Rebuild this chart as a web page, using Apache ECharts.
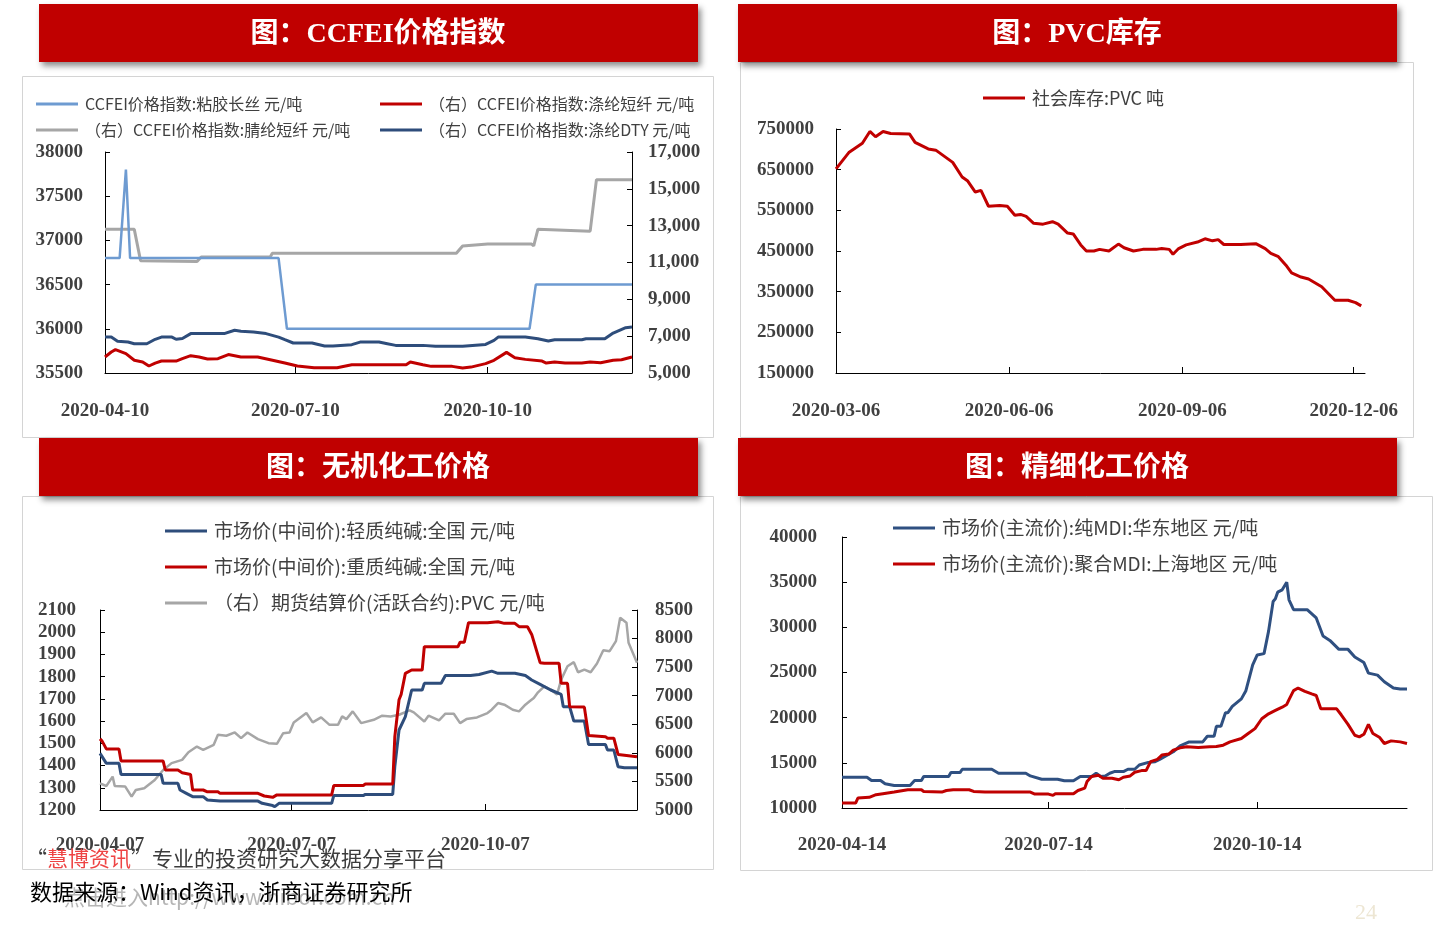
<!DOCTYPE html>
<html><head><meta charset="utf-8">
<script src="https://cdn.jsdelivr.net/npm/echarts@6/dist/echarts.min.js"></script>
<style>html,body{margin:0;padding:0;background:#fff}#c{width:1440px;height:926px}</style>
</head><body><div id="c"></div>
<script>
// ---------- Panel 1: CCFEI price index ----------
const p1Names = ['CCFEI价格指数:粘胶长丝 元/吨','（右）CCFEI价格指数:涤纶短纤 元/吨','（右）CCFEI价格指数:腈纶短纤 元/吨','（右）CCFEI价格指数:涤纶DTY 元/吨'];
const p1XLabels = ['2020-04-10','2020-07-10','2020-10-10'];
const p1XTicks = ['2020-07-10','2020-10-10'];
const p1RightTicks = [5000,7000,9000,11000,13000,15000,17000];
const ccfeiViscose = [['2020-04-10',36800],['2020-04-17',36800],['2020-04-20',37800],['2020-04-22',36800],['2020-07-02',36800],['2020-07-06',36000],['2020-10-30',36000],['2020-11-02',36500],['2020-12-18',36500]];
const ccfeiPolyester = [['2020-04-10',5870],['2020-04-13',6140],['2020-04-15',6270],['2020-04-20',6050],['2020-04-24',5690],['2020-04-28',5600],['2020-05-01',5380],['2020-05-04',5540],['2020-05-07',5650],['2020-05-14',5650],['2020-05-17',5780],['2020-05-21',5940],['2020-05-25',5870],['2020-05-29',5760],['2020-06-03',5780],['2020-06-08',6000],['2020-06-14',5870],['2020-06-22',5870],['2020-06-28',5720],['2020-07-05',5540],['2020-07-11',5380],['2020-07-19',5290],['2020-07-30',5290],['2020-08-06',5450],['2020-09-01',5450],['2020-09-03',5600],['2020-09-09',5450],['2020-09-13',5360],['2020-09-23',5360],['2020-09-28',5270],['2020-10-02',5320],['2020-10-09',5510],['2020-10-13',5690],['2020-10-19',6120],['2020-10-23',5830],['2020-10-28',5740],['2020-11-05',5650],['2020-11-07',5540],['2020-11-11',5600],['2020-11-16',5540],['2020-11-24',5540],['2020-11-28',5600],['2020-12-03',5560],['2020-12-09',5690],['2020-12-13',5720],['2020-12-18',5870]];
const ccfeiAcrylic = [['2020-04-10',12800],['2020-04-24',12800],['2020-04-27',11100],['2020-05-24',11050],['2020-05-26',11300],['2020-06-28',11300],['2020-06-29',11500],['2020-09-25',11500],['2020-09-28',11900],['2020-10-10',12000],['2020-10-31',12000],['2020-11-01',11900],['2020-11-03',12800],['2020-11-28',12700],['2020-12-01',15500],['2020-12-18',15500]];
const ccfeiDTY = [['2020-04-10',6950],['2020-04-13',6950],['2020-04-16',6720],['2020-04-21',6680],['2020-04-24',6590],['2020-04-30',6590],['2020-05-04',6830],['2020-05-07',6950],['2020-05-12',6950],['2020-05-14',6830],['2020-05-17',6870],['2020-05-21',7140],['2020-06-06',7140],['2020-06-11',7320],['2020-06-14',7270],['2020-06-20',7230],['2020-06-26',7140],['2020-07-02',6950],['2020-07-05',6810],['2020-07-09',6630],['2020-07-18',6630],['2020-07-24',6470],['2020-07-28',6470],['2020-08-06',6540],['2020-08-10',6680],['2020-08-19',6680],['2020-08-23',6590],['2020-08-27',6500],['2020-09-09',6500],['2020-09-15',6450],['2020-09-28',6450],['2020-10-09',6550],['2020-10-13',6770],['2020-10-15',6950],['2020-10-28',6950],['2020-11-03',6860],['2020-11-08',6740],['2020-11-11',6810],['2020-11-24',6810],['2020-11-26',6860],['2020-12-05',6860],['2020-12-09',7170],['2020-12-15',7460],['2020-12-18',7500]];

// ---------- Panel 2: PVC inventory ----------
const p2Name = '社会库存:PVC 吨';
const p2XLabels = ['2020-03-06','2020-06-06','2020-09-06','2020-12-06'];
const p2XTicks = ['2020-06-06','2020-09-06','2020-12-06'];
const p2YTicks = [150000,250000,350000,450000,550000,650000,750000];
const pvcInventory = [['2020-03-06',652000],['2020-03-13',693000],['2020-03-20',715000],['2020-03-24',744000],['2020-03-27',731000],['2020-03-31',744000],['2020-04-04',739000],['2020-04-14',738000],['2020-04-17',717000],['2020-04-24',701000],['2020-04-28',698000],['2020-05-07',668000],['2020-05-12',632000],['2020-05-15',622000],['2020-05-19',595000],['2020-05-22',599000],['2020-05-26',560000],['2020-06-01',562000],['2020-06-05',560000],['2020-06-09',538000],['2020-06-12',540000],['2020-06-15',535000],['2020-06-19',518000],['2020-06-24',516000],['2020-06-29',522000],['2020-07-02',516000],['2020-07-07',494000],['2020-07-10',492000],['2020-07-14',465000],['2020-07-17',450000],['2020-07-21',450000],['2020-07-24',454000],['2020-07-29',450000],['2020-08-03',467000],['2020-08-06',458000],['2020-08-11',450000],['2020-08-16',454000],['2020-08-23',454000],['2020-08-26',456000],['2020-08-30',454000],['2020-09-01',442000],['2020-09-04',456000],['2020-09-08',465000],['2020-09-14',472000],['2020-09-18',480000],['2020-09-22',475000],['2020-09-25',478000],['2020-09-28',466000],['2020-10-07',466000],['2020-10-15',468000],['2020-10-20',456000],['2020-10-23',444000],['2020-10-27',436000],['2020-10-31',415000],['2020-11-03',396000],['2020-11-08',386000],['2020-11-12',381000],['2020-11-19',362000],['2020-11-26',329000],['2020-12-03',329000],['2020-12-07',323000],['2020-12-10',315000]];

// ---------- Panel 3: inorganic chemicals ----------
const p3Names = ['市场价(中间价):轻质纯碱:全国 元/吨','市场价(中间价):重质纯碱:全国 元/吨','（右）期货结算价(活跃合约):PVC 元/吨'];
const p3XLabels = ['2020-04-07','2020-07-07','2020-10-07'];
const p3XTicks = ['2020-07-07','2020-10-07'];
const sodaLight = [['2020-04-07',1455],['2020-04-08',1440],['2020-04-10',1410],['2020-04-16',1410],['2020-04-17',1360],['2020-05-06',1360],['2020-05-07',1320],['2020-05-14',1320],['2020-05-15',1290],['2020-05-18',1275],['2020-05-21',1260],['2020-05-26',1260],['2020-05-28',1245],['2020-06-03',1240],['2020-06-21',1240],['2020-06-23',1230],['2020-06-28',1220],['2020-06-29',1215],['2020-07-01',1230],['2020-07-26',1230],['2020-07-27',1265],['2020-08-10',1265],['2020-08-11',1270],['2020-08-24',1270],['2020-08-25',1395],['2020-08-27',1560],['2020-08-30',1620],['2020-09-02',1740],['2020-09-07',1740],['2020-09-08',1770],['2020-09-16',1770],['2020-09-18',1805],['2020-09-30',1805],['2020-10-04',1810],['2020-10-10',1825],['2020-10-13',1815],['2020-10-21',1815],['2020-10-26',1805],['2020-10-29',1785],['2020-11-02',1765],['2020-11-07',1740],['2020-11-12',1720],['2020-11-13',1665],['2020-11-16',1665],['2020-11-18',1600],['2020-11-23',1600],['2020-11-25',1495],['2020-12-03',1495],['2020-12-04',1470],['2020-12-07',1470],['2020-12-09',1395],['2020-12-12',1390],['2020-12-18',1390]];
const sodaHeavy = [['2020-04-07',1520],['2020-04-08',1510],['2020-04-10',1475],['2020-04-16',1475],['2020-04-17',1420],['2020-05-07',1420],['2020-05-08',1380],['2020-05-14',1380],['2020-05-16',1368],['2020-05-20',1360],['2020-05-21',1290],['2020-05-26',1290],['2020-05-28',1282],['2020-06-02',1282],['2020-06-03',1275],['2020-06-21',1275],['2020-06-24',1263],['2020-06-28',1257],['2020-06-30',1268],['2020-07-26',1268],['2020-07-27',1310],['2020-08-10',1310],['2020-08-11',1317],['2020-08-24',1317],['2020-08-25',1530],['2020-08-27',1696],['2020-08-28',1720],['2020-08-30',1815],['2020-09-02',1830],['2020-09-07',1830],['2020-09-08',1935],['2020-09-24',1935],['2020-09-25',1955],['2020-09-27',1955],['2020-09-29',2043],['2020-10-08',2043],['2020-10-13',2047],['2020-10-16',2040],['2020-10-21',2040],['2020-10-23',2025],['2020-10-27',2025],['2020-10-29',1990],['2020-11-02',1863],['2020-11-04',1860],['2020-11-11',1860],['2020-11-12',1770],['2020-11-15',1770],['2020-11-16',1665],['2020-11-23',1663],['2020-11-25',1535],['2020-12-03',1530],['2020-12-04',1523],['2020-12-07',1523],['2020-12-09',1450],['2020-12-18',1440]];
const pvcFutures = [['2020-04-07',5467],['2020-04-10',5420],['2020-04-13',5584],['2020-04-14',5420],['2020-04-19',5410],['2020-04-22',5233],['2020-04-24',5350],['2020-04-28',5380],['2020-05-03',5526],['2020-05-07',5700],['2020-05-11',5820],['2020-05-16',5877],['2020-05-19',6012],['2020-05-23',6110],['2020-05-26',6053],['2020-05-31',6140],['2020-06-02',6316],['2020-06-06',6300],['2020-06-10',6357],['2020-06-13',6258],['2020-06-16',6357],['2020-06-21',6240],['2020-06-26',6170],['2020-06-30',6158],['2020-07-03',6345],['2020-07-06',6357],['2020-07-08',6533],['2020-07-14',6697],['2020-07-17',6533],['2020-07-21',6621],['2020-07-25',6490],['2020-07-29',6490],['2020-07-31',6638],['2020-08-02',6590],['2020-08-05',6726],['2020-08-09',6521],['2020-08-15',6579],['2020-08-19',6650],['2020-08-23',6638],['2020-08-27',6667],['2020-09-01',6744],['2020-09-03',6708],['2020-09-08',6550],['2020-09-10',6650],['2020-09-15',6568],['2020-09-18',6685],['2020-09-22',6685],['2020-09-25',6521],['2020-09-28',6591],['2020-10-03',6620],['2020-10-08',6697],['2020-10-10',6755],['2020-10-13',6872],['2020-10-16',6843],['2020-10-20',6755],['2020-10-23',6726],['2020-10-26',6843],['2020-10-28',6902],['2020-10-30',6960],['2020-11-01',7060],['2020-11-04',7165],['2020-11-07',7107],['2020-11-10',7020],['2020-11-12',7282],['2020-11-15',7516],['2020-11-18',7587],['2020-11-20',7411],['2020-11-23',7458],['2020-11-26',7411],['2020-11-29',7563],['2020-12-02',7797],['2020-12-05',7780],['2020-12-08',7955],['2020-12-10',8365],['2020-12-13',8277],['2020-12-14',7926],['2020-12-18',7575]];

// ---------- Panel 4: fine chemicals (MDI) ----------
const p4Names = ['市场价(主流价):纯MDI:华东地区 元/吨','市场价(主流价):聚合MDI:上海地区 元/吨'];
const p4XLabels = ['2020-04-14','2020-07-14','2020-10-14'];
const p4XTicks = ['2020-07-14','2020-10-14'];
const mdiPure = [['2020-04-14',13400],['2020-04-25',13400],['2020-04-27',13040],['2020-05-01',13040],['2020-05-03',12680],['2020-05-07',12490],['2020-05-14',12490],['2020-05-16',13040],['2020-05-19',13040],['2020-05-20',13480],['2020-05-31',13480],['2020-06-01',13920],['2020-06-05',13920],['2020-06-06',14290],['2020-06-19',14290],['2020-06-22',13850],['2020-07-04',13850],['2020-07-06',13550],['2020-07-11',13190],['2020-07-18',13190],['2020-07-21',13010],['2020-07-25',13010],['2020-07-28',13480],['2020-08-02',13480],['2020-08-04',13850],['2020-08-06',13480],['2020-08-08',13550],['2020-08-10',13850],['2020-08-12',14030],['2020-08-16',14030],['2020-08-18',14290],['2020-08-21',14290],['2020-08-23',14760],['2020-08-27',15050],['2020-08-30',15130],['2020-09-01',15380],['2020-09-07',16220],['2020-09-10',16880],['2020-09-14',17320],['2020-09-20',17320],['2020-09-22',17940],['2020-09-25',17940],['2020-09-26',19040],['2020-09-28',19040],['2020-09-30',20540],['2020-10-01',20540],['2020-10-03',21240],['2020-10-07',22080],['2020-10-09',22990],['2020-10-12',25840],['2020-10-14',26940],['2020-10-17',27090],['2020-10-19',29580],['2020-10-21',32870],['2020-10-22',33160],['2020-10-23',33890],['2020-10-25',34150],['2020-10-27',34990],['2020-10-28',33050],['2020-10-30',31950],['2020-11-05',31950],['2020-11-09',31040],['2020-11-12',29030],['2020-11-15',28550],['2020-11-19',27560],['2020-11-23',27560],['2020-11-26',26720],['2020-11-30',26100],['2020-12-02',24930],['2020-12-06',24710],['2020-12-09',23980],['2020-12-13',23280],['2020-12-16',23170],['2020-12-19',23170]];
const mdiPolymeric = [['2020-04-14',10550],['2020-04-20',10550],['2020-04-21',11100],['2020-04-26',11180],['2020-04-29',11470],['2020-05-02',11580],['2020-05-07',11760],['2020-05-11',11940],['2020-05-13',12020],['2020-05-19',12020],['2020-05-20',11830],['2020-05-28',11760],['2020-05-30',11940],['2020-06-02',12020],['2020-06-09',12020],['2020-06-11',11830],['2020-06-16',11760],['2020-07-06',11760],['2020-07-08',11540],['2020-07-14',11540],['2020-07-16',11400],['2020-07-17',11580],['2020-07-25',11580],['2020-07-27',11940],['2020-07-30',12200],['2020-07-31',12930],['2020-08-02',13480],['2020-08-05',13630],['2020-08-07',13300],['2020-08-11',13300],['2020-08-14',13120],['2020-08-16',13410],['2020-08-19',13550],['2020-08-21',13960],['2020-08-24',14140],['2020-08-26',14140],['2020-08-28',15130],['2020-08-31',15380],['2020-09-02',15860],['2020-09-05',15970],['2020-09-07',16410],['2020-09-10',16660],['2020-09-13',16770],['2020-09-18',16700],['2020-09-23',16770],['2020-09-26',16800],['2020-09-29',16950],['2020-10-02',17320],['2020-10-07',17690],['2020-10-10',18240],['2020-10-13',18790],['2020-10-16',19880],['2020-10-19',20430],['2020-10-22',20800],['2020-10-25',21160],['2020-10-27',21460],['2020-10-28',22000],['2020-10-30',22990],['2020-11-01',23280],['2020-11-04',22920],['2020-11-07',22630],['2020-11-09',22450],['2020-11-11',20980],['2020-11-18',20980],['2020-11-20',20320],['2020-11-23',19260],['2020-11-26',18050],['2020-11-28',17870],['2020-11-30',18160],['2020-12-02',19260],['2020-12-04',18240],['2020-12-07',17800],['2020-12-09',17140],['2020-12-12',17430],['2020-12-16',17320],['2020-12-19',17140]];

// ---------- Titles & footer ----------
const panelTitles = ['图：CCFEI价格指数','图：PVC库存','图：无机化工价格','图：精细化工价格'];
const sourceText = '数据来源：Wind资讯，浙商证券研究所';
const pageNo = '24';

// ---------- helpers ----------
const ts = s => { const [y,m,d] = s.split('-').map(Number); return Date.UTC(y, m-1, d); };
const pad = n => String(n).padStart(2,'0');
const fmtDate = v => { const d = new Date(v); return d.getUTCFullYear()+'-'+pad(d.getUTCMonth()+1)+'-'+pad(d.getUTCDate()); };
const plain = v => String(v);
const toXY = arr => arr.map(([d,v]) => [ts(d), v]);
const AX = '#000';
const LBL = {color:'#404040', fontFamily:'"Liberation Serif","Times New Roman",serif', fontWeight:'bold', fontSize:19};
const C_RED = '#C00000', C_NAVY = '#2E4D7B', C_GRAY = '#A6A6A6', C_LBLUE = '#6E9BD1';

function xDate(grid, min, max, labels, ticks, margin) {
  return {type:'value', gridIndex:grid, min:ts(min), max:ts(max), splitLine:{show:false}, scale:true,
    axisLine:{show:true, onZero:false, lineStyle:{color:AX, width:1}},
    axisTick:{show:true, inside:true, length:6, customValues:ticks.map(ts), lineStyle:{color:AX}},
    axisLabel:Object.assign({show:true, customValues:labels.map(ts), formatter:v=>fmtDate(v), margin, hideOverlap:false}, LBL)};
}
function yVal(grid, pos, min, max, opt) {
  const a = {type:'value', gridIndex:grid, position:pos, min, max, splitLine:{show:false},
    axisLine:{show:true, onZero:false, lineStyle:{color:AX, width:1}},
    axisTick:{show:true, inside:true, length:5, lineStyle:{color:AX}},
    axisLabel:Object.assign({show:true, margin:opt.margin, formatter:opt.fmt || plain}, LBL)};
  if (opt.interval) a.interval = opt.interval;
  if (opt.custom) { a.axisLabel.customValues = opt.custom; a.axisTick.customValues = opt.custom; }
  return a;
}
function line(name, data, xi, yi, color, w) {
  return {name, type:'line', data:toXY(data), xAxisIndex:xi, yAxisIndex:yi, showSymbol:false, symbol:'none',
    lineStyle:{color, width:w}, itemStyle:{color}, animation:false, z:3};
}
function leg(name, left, centerY, fs) {
  return {data:[name], left, top:centerY - (fs+4)/2, padding:0, selectedMode:false, icon:'rect', itemWidth:42, itemHeight:3, itemGap:0,
    textStyle:{color:'#404040', fontSize:fs, lineHeight:fs+4, fontFamily:'"Noto Sans CJK SC",sans-serif', padding:[0,0,0,2]}};
}
function banner(x, y, title) {
  return [
    {type:'rect', shape:{x, y, width:659, height:58}, style:{fill:C_RED, shadowBlur:6, shadowOffsetX:3, shadowOffsetY:4, shadowColor:'rgba(0,0,0,0.45)'}, z:10},
    {type:'text', x:x+339, y:y+31, style:{text:title, fill:'#fff', font:'bold 28px "Liberation Serif","Noto Sans CJK SC",serif', align:'center', verticalAlign:'middle'}, z:11}
  ];
}
function box(x, y, w, h) {
  return {type:'rect', shape:{x:x+0.5, y:y+0.5, width:w, height:h}, style:{fill:'none', stroke:'#D4D4D4', lineWidth:1}, z:1};
}

const chart = echarts.init(document.getElementById('c'), null, {renderer:'canvas'});
chart.setOption({
  backgroundColor:'#fff',
  animation:false,
  grid:[
    {left:105, top:152, width:527, height:221},
    {left:836, top:129, width:529, height:244},
    {left:100, top:610, width:537, height:200},
    {left:842, top:537, width:565, height:271}
  ],
  xAxis:[
    xDate(0,'2020-04-10','2020-12-18',p1XLabels,p1XTicks,29),
    xDate(1,'2020-03-06','2020-12-12',p2XLabels,p2XTicks,29),
    xDate(2,'2020-04-07','2020-12-18',p3XLabels,p3XTicks,26),
    xDate(3,'2020-04-14','2020-12-19',p4XLabels,p4XTicks,28)
  ],
  yAxis:[
    yVal(0,'left',35500,38000,{interval:500, margin:22}),
    yVal(0,'right',5000,17000,{custom:p1RightTicks, margin:16, fmt:v=>Number(v).toLocaleString('en-US')}),
    yVal(1,'left',150000,750000,{custom:p2YTicks, margin:22}),
    yVal(2,'left',1200,2100,{interval:100, margin:24}),
    yVal(2,'right',5000,8500,{interval:500, margin:18}),
    yVal(3,'left',10000,40000,{interval:5000, margin:25})
  ],
  legend:[
    leg(p1Names[0],36,104,16), leg(p1Names[1],380,104,16),
    leg(p1Names[2],36,130,16), leg(p1Names[3],380,130,16),
    leg(p2Name,983,98,18),
    leg(p3Names[0],165,531,19), leg(p3Names[1],165,567,19), leg(p3Names[2],165,603,19),
    leg(p4Names[0],893,528,19), leg(p4Names[1],893,564,19)
  ],
  series:[
    line(p1Names[2], ccfeiAcrylic, 0, 1, C_GRAY, 3),
    line(p1Names[0], ccfeiViscose, 0, 0, C_LBLUE, 2.5),
    line(p1Names[3], ccfeiDTY, 0, 1, C_NAVY, 3),
    line(p1Names[1], ccfeiPolyester, 0, 1, C_RED, 3),
    line(p2Name, pvcInventory, 1, 2, C_RED, 3),
    line(p3Names[2], pvcFutures, 2, 4, C_GRAY, 2.5),
    line(p3Names[0], sodaLight, 2, 3, C_NAVY, 3),
    line(p3Names[1], sodaHeavy, 2, 3, C_RED, 3),
    line(p4Names[0], mdiPure, 3, 5, '#2F5081', 3),
    line(p4Names[1], mdiPolymeric, 3, 5, C_RED, 3)
  ],
  graphic:[
    box(22,76,691,361), box(740,62,673,375), box(22,496,691,373), box(740,496,692,374),
    ...banner(39,4,panelTitles[0]), ...banner(738,4,panelTitles[1]),
    ...banner(39,438,panelTitles[2]), ...banner(738,438,panelTitles[3]),
    {type:'text', x:26, y:858, z:50, style:{text:'“{r|慧博资讯}”专业的投资研究大数据分享平台', fill:'#3c3c3c', font:'21px "Noto Sans CJK SC",sans-serif', verticalAlign:'middle', rich:{r:{fill:'#EE4444', font:'21px "Noto Sans CJK SC",sans-serif'}}}},
    {type:'text', x:64, y:897, z:49, style:{text:'点击进入http://www.hibor.com.cn', fill:'rgba(120,120,120,0.55)', font:'21px "Noto Sans CJK SC",sans-serif', verticalAlign:'middle'}},
    {type:'text', x:30, y:892, z:50, style:{text:sourceText, fill:'#000', font:'22px "Noto Sans CJK SC",sans-serif', verticalAlign:'middle'}},
    {type:'text', x:1366, y:913, z:50, style:{text:pageNo, fill:'#EDE6D3', font:'22px "Liberation Serif",serif', align:'center', verticalAlign:'middle'}}
  ]
});
</script>
</body></html>
